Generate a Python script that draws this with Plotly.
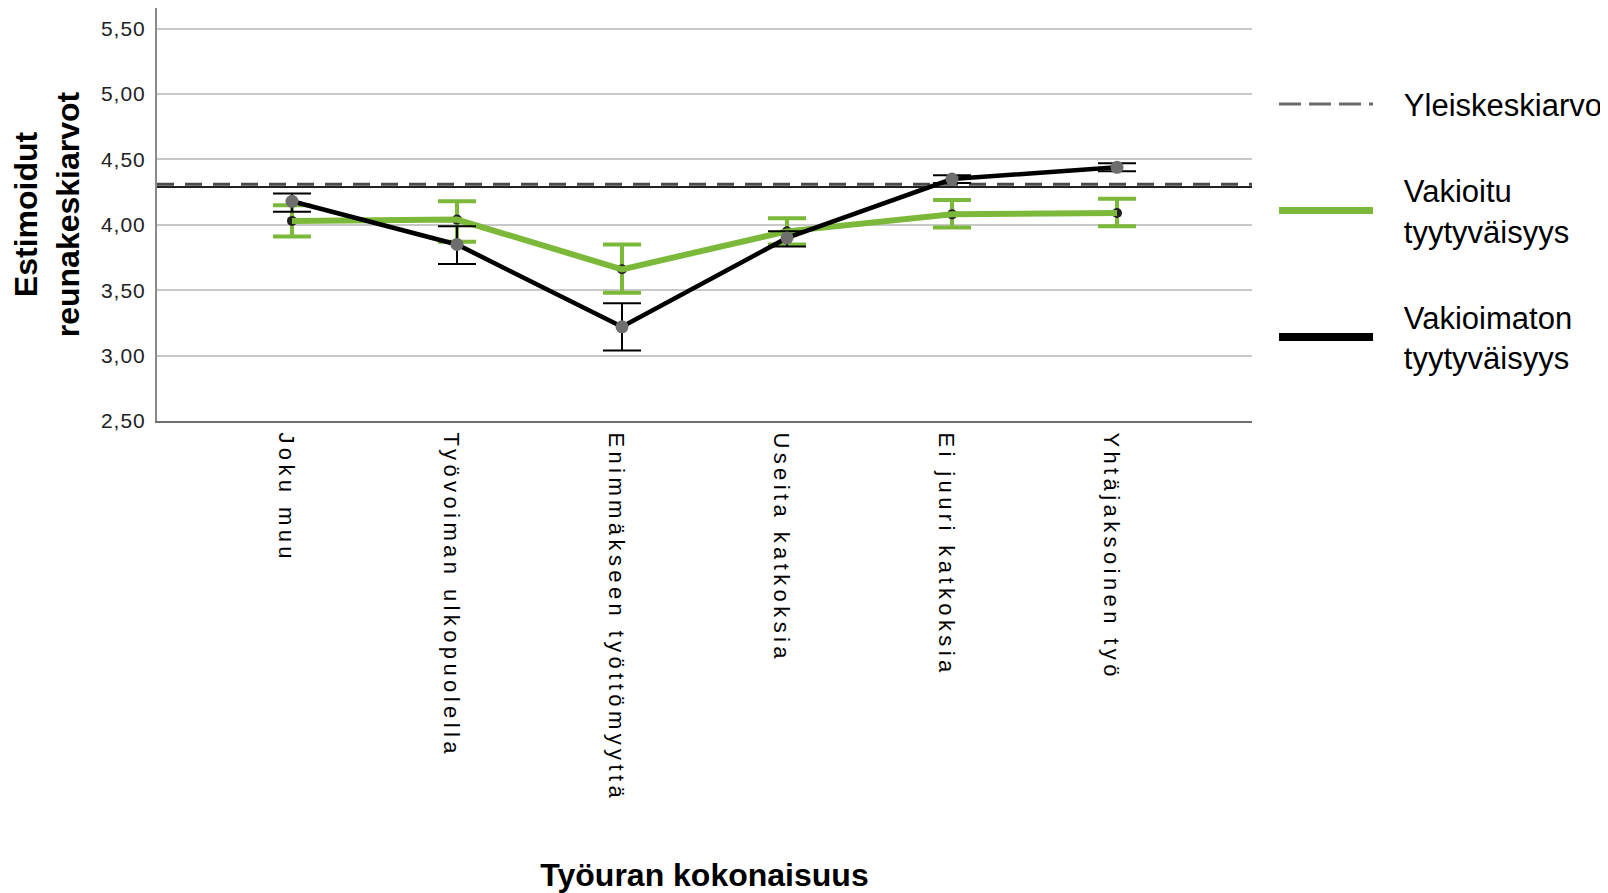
import plotly.graph_objects as go

# ---- data ----
categories = ["Joku muu", "Työvoiman ulkopuolella", "Enimmäkseen työttömyyttä",
              "Useita katkoksia", "Ei juuri katkoksia", "Yhtäjaksoinen työ"]
adjusted = [4.03, 4.04, 3.66, 3.95, 4.08, 4.09]
adjusted_low = [3.91, 3.87, 3.48, 3.85, 3.98, 3.99]
adjusted_high = [4.15, 4.18, 3.85, 4.05, 4.19, 4.20]
unadjusted = [4.18, 3.85, 3.22, 3.90, 4.35, 4.44]
unadjusted_low = [4.10, 3.70, 3.04, 3.835, 4.32, 4.41]
unadjusted_high = [4.24, 3.99, 3.40, 3.95, 4.38, 4.47]
grand_mean = 4.31
reference_line = 4.29
y_ticks = [2.5, 3.0, 3.5, 4.0, 4.5, 5.0, 5.5]
y_tick_labels = ["2,50", "3,00", "3,50", "4,00", "4,50", "5,00", "5,50"]
legend_names = ["Yleiskeskiarvo", "Vakioitu<br>tyytyväisyys", "Vakioimaton<br>tyytyväisyys"]

X_RANGE = [-0.818, 5.818]
Y_RANGE = [2.5, 5.658]
FONT = "Arial, Liberation Sans, sans-serif"
GREEN = "#7cb93a"
NB = "\u00a0\u00a0\u00a0"

xs = list(range(len(categories)))

def err(vals, lo, hi):
    return dict(type="data", symmetric=False,
                array=[h - v for v, h in zip(vals, hi)],
                arrayminus=[v - l for v, l in zip(vals, lo)])

def spaced(t, px):
    return '<span style="letter-spacing:%spx">%s</span>' % (px, t)

fig = go.Figure()

# reference solid line + grand mean dashed line
fig.add_trace(go.Scatter(x=X_RANGE, y=[reference_line] * 2, mode="lines",
                         line=dict(color="#222222", width=2), showlegend=False,
                         hoverinfo="skip"))
fig.add_trace(go.Scatter(x=X_RANGE, y=[grand_mean] * 2, mode="lines",
                         line=dict(color="#4a4a4a", width=3, dash="17px,11px"),
                         showlegend=False))

# adjusted (green)
e = err(adjusted, adjusted_low, adjusted_high)
e.update(color=GREEN, thickness=4, width=19)
fig.add_trace(go.Scatter(x=xs, y=adjusted, mode="markers",
                         marker=dict(color="#222222", size=10),
                         error_y=e, showlegend=False))
fig.add_trace(go.Scatter(x=xs, y=adjusted, mode="lines",
                         line=dict(color=GREEN, width=6), showlegend=False))

# unadjusted (black)
fig.add_trace(go.Scatter(x=xs, y=unadjusted, mode="lines",
                         line=dict(color="#000000", width=4.5), showlegend=False))
e2 = err(unadjusted, unadjusted_low, unadjusted_high)
e2.update(color="#000000", thickness=2, width=19)
fig.add_trace(go.Scatter(x=xs, y=unadjusted, mode="markers",
                         marker=dict(color="#6e6e6e", size=13),
                         error_y=e2, showlegend=False))

# legend entries
legend_styles = [dict(color="#6a6a6a", width=3, dash="22px,8px"),
                 dict(color=GREEN, width=7),
                 dict(color="#000000", width=8)]
for i, (nm, ls) in enumerate(zip(legend_names, legend_styles)):
    fig.add_trace(go.Scatter(x=[None], y=[None], mode="lines",
                             name=NB + nm.replace("<br>", "<br>" + NB),
                             line=ls, legendgroup="L%d" % i, showlegend=True))

fig.update_layout(
    width=1608, height=893,
    margin=dict(l=149, r=364, t=0, b=479.5, autoexpand=False),
    paper_bgcolor="white", plot_bgcolor="white",
    font=dict(family=FONT, color="#000000"),
    showlegend=True,
    legend=dict(x=1.0201, y=0.832, xanchor="left", yanchor="top",
                font=dict(size=31, family=FONT), itemwidth=94,
                tracegroupgap=43, traceorder="grouped",
                bgcolor="rgba(0,0,0,0)"),
    xaxis=dict(range=X_RANGE, tickvals=xs,
               ticktext=[spaced(c, 4.4) for c in categories],
               tickangle=90, tickfont=dict(size=22, family=FONT),
               ticklabelshift=-6, ticklabelstandoff=5,
               showgrid=False, zeroline=False, showline=True,
               linecolor="#6e6e6e", linewidth=2, ticks="", ticklen=0,
               title=dict(text="<b>Työuran kokonaisuus</b>", font=dict(size=32, family=FONT),
                          standoff=62)),
    yaxis=dict(range=Y_RANGE, tickvals=y_ticks,
               ticktext=[spaced(t, 1) for t in y_tick_labels],
               tickfont=dict(size=21, family=FONT, color="#222222"),
               ticklabelstandoff=5,
               showgrid=True, gridcolor="#c8c8c8", gridwidth=2,
               zeroline=False, showline=True, linecolor="#8a8a8a", linewidth=2,
               ticks="", title=dict(text="<b>Estimoidut<br>reunakeskiarvot</b>",
                                    font=dict(size=32, family=FONT), standoff=29)),
)

fig.write_html("out.html")
